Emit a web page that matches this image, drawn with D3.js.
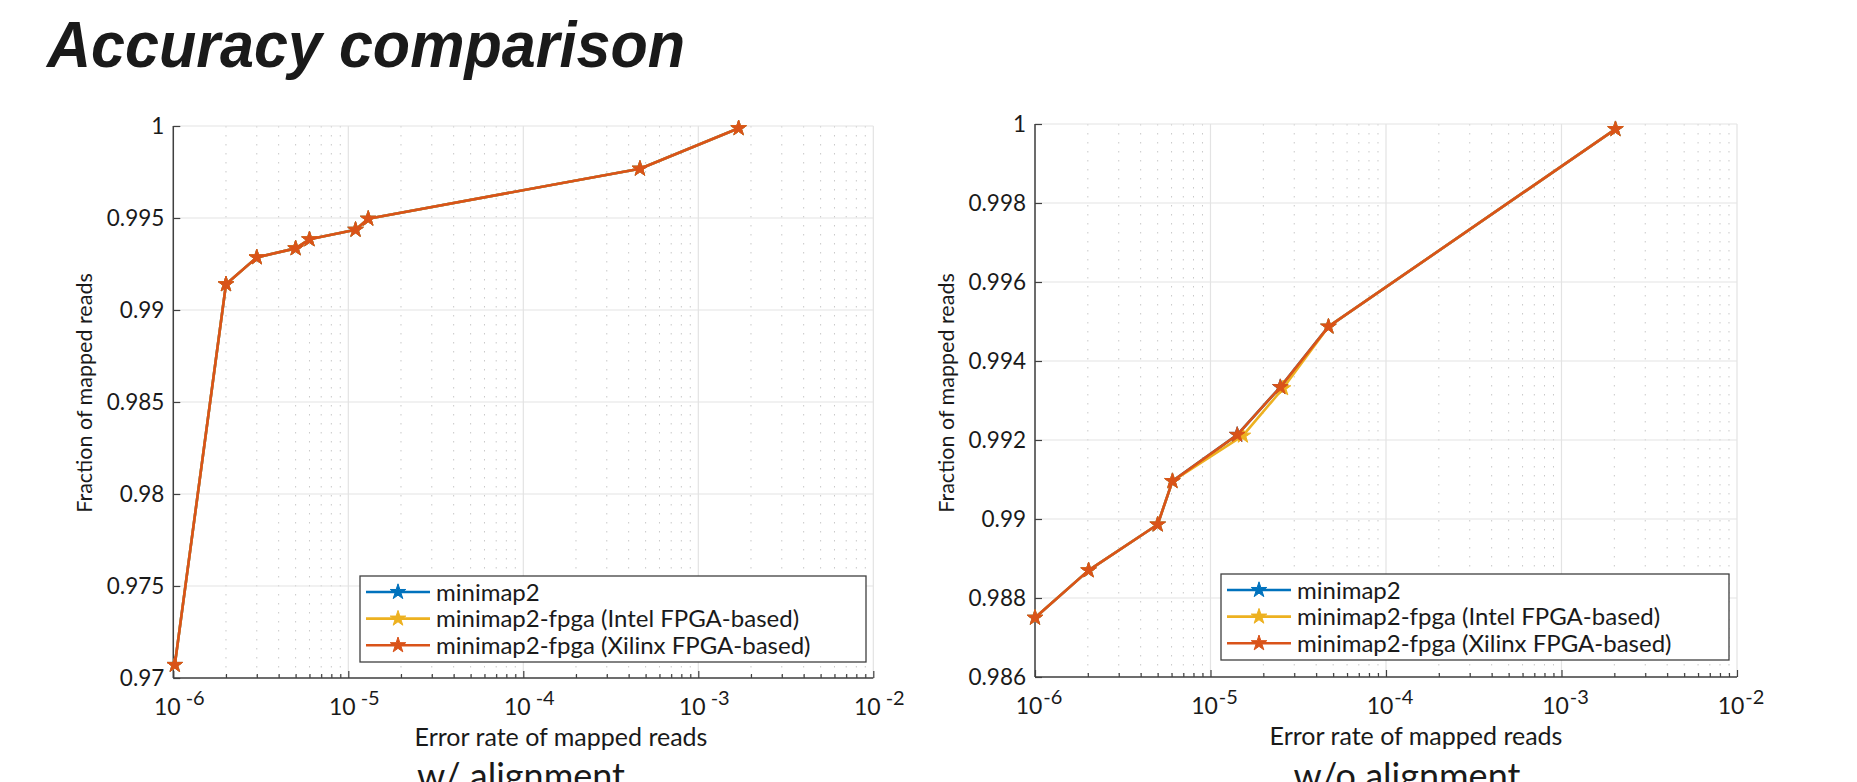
<!DOCTYPE html>
<html>
<head>
<meta charset="utf-8">
<script src="https://cdn.jsdelivr.net/npm/d3@7"></script>
<style>
  body { margin: 0; background: #fff; }
  svg text { font-family: Lato, "Open Sans", sans-serif; fill: #1a1a1a; }
  .title { font-family: "Liberation Sans", Arial, sans-serif; font-weight: bold; font-style: italic; fill: #1a1a1a; }
</style>
</head>
<body>
<div id="chart"></div>
<script>
// series names and colours (MATLAB default order)
var seriesNames = ['minimap2', 'minimap2-fpga (Intel FPGA-based)', 'minimap2-fpga (Xilinx FPGA-based)']
var seriesColors = ['#0072BD', '#EDB120', '#D95319']

// w/ alignment: error rate vs fraction of mapped reads
var errWith = [1.02e-6, 2.0e-6, 3.0e-6, 5.0e-6, 6.0e-6, 1.1e-5, 1.3e-5, 4.64e-4, 1.70e-3]
var fracWith = [0.97071, 0.99140, 0.99286, 0.99335, 0.99384, 0.99436, 0.99496, 0.99768, 0.99988]

// w/o alignment
var errWoMinimap = [1.0e-6, 2.02e-6, 5.0e-6, 6.07e-6, 1.42e-5, 2.5e-5, 4.7e-5, 2.03e-3]
var fracWoMinimap = [0.9875, 0.9887, 0.98986, 0.99096, 0.99213, 0.99334, 0.99487, 0.99987]
var errWoIntel = [1.0e-6, 2.02e-6, 5.0e-6, 6.07e-6, 1.53e-5, 2.59e-5, 4.7e-5, 2.03e-3]
var fracWoIntel = [0.9875, 0.9887, 0.98986, 0.99096, 0.99211, 0.99331, 0.99487, 0.99987]
var errWoXilinx = [1.0e-6, 2.02e-6, 5.0e-6, 6.07e-6, 1.42e-5, 2.5e-5, 4.7e-5, 2.03e-3]
var fracWoXilinx = [0.9875, 0.9887, 0.98986, 0.99096, 0.99213, 0.99334, 0.99487, 0.99987]

// axis ticks
var xDomain = [1e-6, 1e-2]
var xTickExps = [-6, -5, -4, -3, -2]
var yTicksWith = [0.97, 0.975, 0.98, 0.985, 0.99, 0.995, 1]
var yTicksWo = [0.986, 0.988, 0.99, 0.992, 0.994, 0.996, 0.998, 1]

var W = 1857, H = 782
var svg = d3.select('#chart').append('svg')
  .attr('width', W)
  .attr('height', H)

svg.append('text')
  .attr('class', 'title')
  .attr('x', 47)
  .attr('y', 67)
  .attr('font-size', 64)
  .attr('textLength', 638)
  .attr('lengthAdjust', 'spacingAndGlyphs')
  .text('Accuracy comparison')

function zip (xs, ys) {
  return xs.map(function (x, i) { return { x: x, y: ys[i] } })
}

function drawPanel (opt) {
  var x = d3.scaleLog().domain(xDomain).range([opt.left, opt.right])
  var y = d3.scaleLinear().domain([opt.yTicks[0], opt.yTicks[opt.yTicks.length - 1]]).range([opt.bottom, opt.top])
  var g = svg.append('g')

  // minor x grid (dotted)
  var minor = []
  for (var e = -6; e < -2; e++) {
    for (var m = 2; m <= 9; m++) minor.push(m * Math.pow(10, e))
  }
  g.append('g').selectAll('line')
    .data(minor)
    .enter().append('line')
    .attr('x1', function (d) { return x(d) }).attr('x2', function (d) { return x(d) })
    .attr('y1', opt.top).attr('y2', opt.bottom)
    .attr('stroke', '#c8c8c8')
    .attr('stroke-width', 1)
    .attr('stroke-dasharray', '1.5,7.5')

  // major grid
  g.append('g').selectAll('line')
    .data(xTickExps)
    .enter().append('line')
    .attr('x1', function (d) { return x(Math.pow(10, d)) }).attr('x2', function (d) { return x(Math.pow(10, d)) })
    .attr('y1', opt.top).attr('y2', opt.bottom)
    .attr('stroke', '#e3e3e3')
    .attr('stroke-width', 1.2)
  g.append('g').selectAll('line')
    .data(opt.yTicks)
    .enter().append('line')
    .attr('x1', opt.left).attr('x2', opt.right)
    .attr('y1', function (d) { return y(d) }).attr('y2', function (d) { return y(d) })
    .attr('stroke', '#e3e3e3')
    .attr('stroke-width', 1.2)

  // x axis, ticks pointing inward
  var xAxis = d3.axisTop(x)
    .tickValues(xTickExps.map(function (e) { return Math.pow(10, e) }))
    .tickSize(7)
    .tickFormat('')
  var gx = g.append('g')
    .attr('transform', 'translate(0,' + opt.bottom + ')')
    .call(xAxis)
  gx.select('.domain').remove()
  gx.selectAll('.tick line').attr('stroke', '#404040').attr('stroke-width', 1.2)
  var minorAxis = d3.axisTop(x).tickValues(minor).tickSize(4).tickFormat('')
  var gxm = g.append('g')
    .attr('transform', 'translate(0,' + opt.bottom + ')')
    .call(minorAxis)
  gxm.select('.domain').remove()
  gxm.selectAll('.tick line').attr('stroke', '#404040').attr('stroke-width', 1.2)

  // x tick labels 10^n
  var lab = g.append('g').selectAll('text')
    .data(xTickExps)
    .enter().append('text')
    .attr('x', function (d) { return x(Math.pow(10, d)) + opt.labelShift })
    .attr('y', opt.bottom + 37)
    .attr('text-anchor', 'middle')
    .attr('font-size', 23)
  lab.append('tspan').text('10')
  lab.append('tspan')
    .attr('dx', opt.supGap)
    .attr('dy', -10)
    .attr('font-size', 20)
    .text(function (d) { return '-' + Math.abs(d) })

  // y axis, ticks pointing inward
  var yAxis = d3.axisRight(y)
    .tickValues(opt.yTicks)
    .tickSize(7)
    .tickFormat('')
  var gy = g.append('g')
    .attr('transform', 'translate(' + opt.left + ',0)')
    .call(yAxis)
  gy.select('.domain').remove()
  gy.selectAll('.tick line').attr('stroke', '#404040').attr('stroke-width', 1.2)
  g.append('g').selectAll('text')
    .data(opt.yTicks)
    .enter().append('text')
    .attr('x', opt.left - 9)
    .attr('y', function (d) { return y(d) })
    .attr('dy', '0.36em')
    .attr('text-anchor', 'end')
    .attr('font-size', 22.5)
    .text(function (d) { return String(+d.toFixed(3)) })

  // axis lines
  g.append('line')
    .attr('x1', opt.left).attr('x2', opt.right)
    .attr('y1', opt.bottom).attr('y2', opt.bottom)
    .attr('stroke', '#404040').attr('stroke-width', 1.5)
  g.append('line')
    .attr('x1', opt.left).attr('x2', opt.left)
    .attr('y1', opt.top).attr('y2', opt.bottom)
    .attr('stroke', '#404040').attr('stroke-width', 1.5)

  // series
  var line = d3.line()
    .x(function (d) { return x(d.x) })
    .y(function (d) { return y(d.y) })
  var star = d3.symbol().type(d3.symbolStar).size(75)
  opt.series.forEach(function (s, i) {
    var pts = zip(s[0], s[1])
    var sg = g.append('g')
    sg.append('path')
      .datum(pts)
      .attr('d', line)
      .attr('fill', 'none')
      .attr('stroke', seriesColors[i])
      .attr('stroke-width', 2.6)
      .attr('stroke-linejoin', 'round')
    sg.selectAll('.dot')
      .data(pts)
      .enter().append('path')
      .attr('class', 'dot')
      .attr('transform', function (d) { return 'translate(' + x(d.x) + ',' + y(d.y) + ')' })
      .attr('d', star)
      .attr('fill', seriesColors[i])
      .attr('stroke', seriesColors[i])
      .attr('stroke-width', 1)
  })

  // axis labels
  g.append('text')
    .attr('x', opt.xLabelX)
    .attr('y', opt.bottom + 68)
    .attr('text-anchor', 'middle')
    .attr('font-size', 25)
    .text('Error rate of mapped reads')
  g.append('text')
    .attr('transform', 'translate(' + opt.yLabelX + ',' + opt.yLabelY + ') rotate(-90)')
    .attr('text-anchor', 'middle')
    .attr('font-size', 21.5)
    .text('Fraction of mapped reads')
  g.append('text')
    .attr('x', opt.subX)
    .attr('y', 789)
    .attr('text-anchor', 'middle')
    .attr('font-size', 36)
    .text(opt.subtitle)

  // legend
  var lg = g.append('g')
  lg.append('rect')
    .attr('x', opt.legend[0]).attr('y', opt.legend[1])
    .attr('width', opt.legend[2]).attr('height', opt.legend[3])
    .attr('fill', '#fff')
    .attr('stroke', '#404040')
    .attr('stroke-width', 1.3)
  seriesNames.forEach(function (name, i) {
    var ly = opt.legend[1] + 16 + i * 26.6
    var lx = opt.legend[0] + 6
    lg.append('line')
      .attr('x1', lx).attr('x2', lx + 64)
      .attr('y1', ly).attr('y2', ly)
      .attr('stroke', seriesColors[i])
      .attr('stroke-width', 2.6)
    lg.append('path')
      .attr('transform', 'translate(' + (lx + 32) + ',' + ly + ')')
      .attr('d', star)
      .attr('fill', seriesColors[i])
      .attr('stroke', seriesColors[i])
    lg.append('text')
      .attr('x', lx + 70)
      .attr('y', ly)
      .attr('dy', '0.36em')
      .attr('font-size', 24)
      .text(name)
  })
}

drawPanel({
  left: 173.3, right: 873.3, top: 126, bottom: 678,
  yTicks: yTicksWith,
  labelShift: 6, supGap: 5,
  xLabelX: 561, yLabelX: 92, yLabelY: 393,
  subX: 521, subtitle: 'w/ alignment',
  legend: [360, 576, 506, 86],
  series: [[errWith, fracWith], [errWith, fracWith], [errWith, fracWith]]
})

drawPanel({
  left: 1035, right: 1737, top: 124, bottom: 677,
  yTicks: yTicksWo,
  labelShift: 4, supGap: 1,
  xLabelX: 1416, yLabelX: 954, yLabelY: 393,
  subX: 1407, subtitle: 'w/o alignment',
  legend: [1221, 574, 508, 86],
  series: [[errWoMinimap, fracWoMinimap], [errWoIntel, fracWoIntel], [errWoXilinx, fracWoXilinx]]
})
</script>
</body>
</html>
